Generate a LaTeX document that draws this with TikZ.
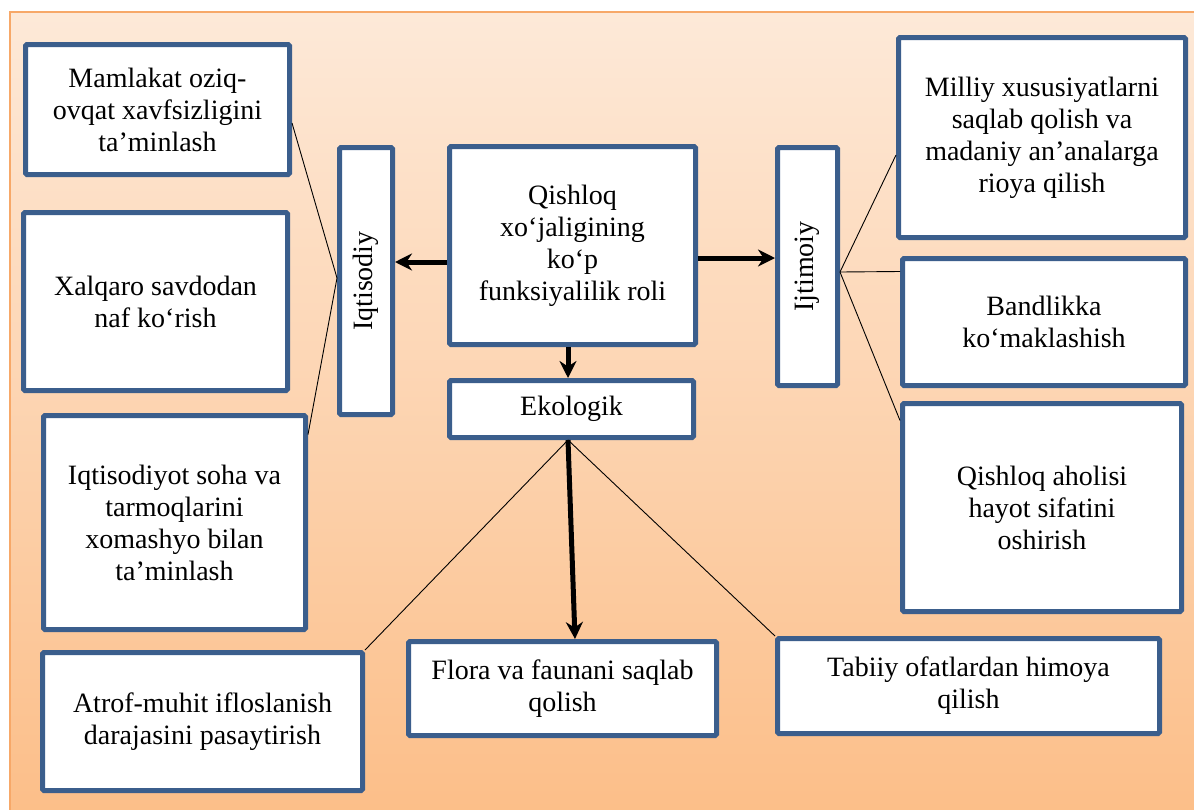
\documentclass[tikz,border=0pt]{standalone}
\usepackage{fontspec}
\setmainfont{Liberation Serif}
\newfontfamily\boxfont{Liberation Serif}
\usepackage{tikz}
\usetikzlibrary{arrows.meta}
\usepackage{xcolor}
\definecolor{boxblue}{HTML}{3B5E8C}
\definecolor{framecol}{HTML}{F7A868}
\definecolor{peachtop}{HTML}{FDE9D8}
\definecolor{peachbot}{HTML}{FCBE88}

\begin{document}
\begin{tikzpicture}[x=1pt, y=-1pt,
    box/.style={draw=boxblue, line width=5pt, fill=white,
                rounded corners=1.5pt, align=center, inner sep=0pt,
                font=\boxfont\fontsize{28}{32}\selectfont},
    link/.style={draw=black, line width=0.9pt},
    bigarrow/.style={draw=black, line width=5pt,
                     -{Stealth[length=17pt, width=17pt]}}]

    % background
    \useasboundingbox (0,0) rectangle (1194,809);
    \fill[white] (0,0) rectangle (1194,809);
    \shade[top color=peachtop, bottom color=peachbot,
           draw=framecol, line width=1.5pt] (10,12) rectangle (1204,819);

    % Add the boxes
        \node[box, minimum width=246pt, minimum height=198pt] (main) at (572.5,245.5)
            {Qishloq\\xo‘jaligining\\ko‘p\\funksiyalilik roli};
        \node[box, minimum width=53pt, minimum height=267pt] (iqt) at (366,281)
            {\rotatebox{90}{Iqtisodiy}};
        \node[box, minimum width=60pt, minimum height=238pt] (ijt) at (807.5,266.5)
            {\rotatebox{90}{Ijtimoiy}};
        \node[box, minimum width=244pt, minimum height=57pt] (eko) at (571.5,409)
            {Ekologik};

        \node[box, minimum width=264pt, minimum height=130pt] (i1) at (157.5,109.5)
            {Mamlakat oziq-\\ovqat xavfsizligini\\ta’minlash};
        \node[box, minimum width=264pt, minimum height=178pt] (i2) at (155.5,301.5)
            {Xalqaro savdodan\\naf ko‘rish};
        \node[box, minimum width=262pt, minimum height=214pt] (i3) at (174.5,522.5)
            {Iqtisodiyot soha va\\tarmoqlarini\\xomashyo bilan\\ta’minlash};

        \node[box, minimum width=287pt, minimum height=200pt] (j1) at (1042,137.5)
            {Milliy xususiyatlarni\\saqlab qolish va\\madaniy an’analarga\\rioya qilish};
        \node[box, minimum width=283pt, minimum height=127pt] (j2) at (1044,322)
            {Bandlikka\\ko‘maklashish};
        \node[box, minimum width=279pt, minimum height=208pt] (j3) at (1042,507.5)
            {Qishloq aholisi\\hayot sifatini\\oshirish};

        \node[box, minimum width=320pt, minimum height=138pt] (e1) at (202.5,721.5)
            {Atrof-muhit ifloslanish\\darajasini pasaytirish};
        \node[box, minimum width=308pt, minimum height=94pt] (e2) at (562.5,688.5)
            {Flora va faunani saqlab\\qolish};
        \node[box, minimum width=382pt, minimum height=95pt] (e3) at (968.5,686)
            {Tabiiy ofatlardan himoya\\qilish};

    % arrows out of the main box
        \coordinate (cl) at ([yshift=-16.5pt]main.west);
        \coordinate (cr) at ([yshift=-12.5pt]main.east);
        \coordinate (cd) at ([xshift=-4.5pt]main.south);
        \draw[bigarrow] (cl) -- (cl -| iqt.east);
        \draw[bigarrow] (cr) -- (cr -| ijt.west);
        \draw[bigarrow] (cd) -- (cd |- eko.north);
        \draw[bigarrow] ([xshift=-3.5pt]eko.south) -- ([xshift=12.5pt]e2.north);

    % thin links
    \draw[link]
            ([yshift=3pt]iqt.west) edge ([yshift=-13.5pt]i1.east)
            ([yshift=3pt]iqt.west) edge ([yshift=-21.5pt]i3.north east)
            ([yshift=-5.5pt]ijt.east) edge ([yshift=-17.5pt]j1.west)
            ([yshift=-5.5pt]ijt.east) edge ([yshift=-15.5pt]j2.north west)
            ([yshift=-5.5pt]ijt.east) edge ([yshift=-19.5pt]j3.north west)
            ([xshift=-3.5pt]eko.south) edge (e1.north east)
            ([xshift=-3.5pt]eko.south) edge (e3.north west);

\end{tikzpicture}
\end{document}
